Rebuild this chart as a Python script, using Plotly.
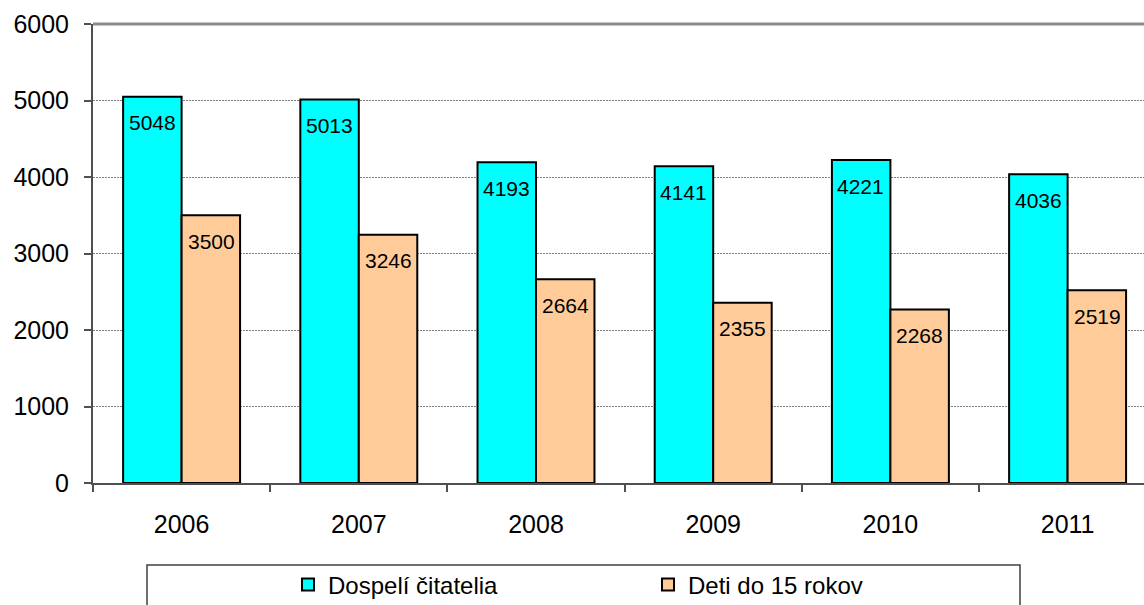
import plotly.graph_objects as go

# data
years = ["2006", "2007", "2008", "2009", "2010", "2011"]
adults = [5048, 5013, 4193, 4141, 4221, 4036]
children = [3500, 3246, 2664, 2355, 2268, 2519]
series_names = ["Dospelí čitatelia", "Deti do 15 rokov"]

font_family = "Liberation Sans, Arial, sans-serif"
colors = ["#00FFFF", "#FFCC99"]

fig = go.Figure()
for name, vals, col in zip(series_names, [adults, children], colors):
    fig.add_trace(go.Bar(
        x=years, y=vals, name=name,
        marker=dict(color=col, line=dict(color="black", width=2)),
    ))

# value labels inside bars, a bit below the top
half_bar = 29.5
for k, vals in enumerate([adults, children]):
    shift = -half_bar if k == 0 else half_bar
    for i, v in enumerate(vals):
        fig.add_annotation(
            x=i, y=v, text=str(v), showarrow=False,
            xshift=shift, yshift=-26, yanchor="middle",
            font=dict(size=21, color="black", family=font_family),
        )

L, T, B = 93, 24, 122
W, H = 1144, 605
pw = W - L
ph = H - T - B

fig.update_layout(
    width=W, height=H,
    margin=dict(l=L, r=0, t=T, b=B),
    plot_bgcolor="white", paper_bgcolor="white",
    font=dict(family=font_family, size=25, color="black"),
    barmode="group", bargap=0.34, bargroupgap=0,
    showlegend=True,
    legend=dict(
        orientation="h", xref="container", x=288 / W, xanchor="left",
        yref="container", y=1 - 585 / H, yanchor="middle",
        font=dict(size=24), entrywidth=315, entrywidthmode="pixels",
        bgcolor="rgba(0,0,0,0)", itemclick=False,
    ),
    shapes=[
        dict(type="rect", xref="paper", yref="paper",
             x0=(147 - L) / pw, x1=(1020 - L) / pw,
             y0=-0.4, y1=(483 - 565) / ph,
             line=dict(color="#404040", width=1.5)),
        dict(type="line", xref="paper", yref="paper",
             x0=0, x1=1, y0=1, y1=1,
             line=dict(color="#8c8c8c", width=3)),
    ],
)

fig.update_xaxes(
    type="category",
    range=[-0.5, -0.5 + pw / 177.2],
    showline=True, linecolor="#505050", linewidth=2,
    ticks="outside", tickson="boundaries", ticklen=7, tickcolor="#505050",
    tickwidth=2, ticklabelstandoff=18, showgrid=False,
)
fig.update_yaxes(
    range=[0, 6000], dtick=1000,
    showline=True, linecolor="#505050", linewidth=2,
    ticks="outside", ticklen=7, tickcolor="#505050", tickwidth=2,
    ticklabelstandoff=10,
    showgrid=True, gridcolor="#808080", griddash="2px,1px", gridwidth=1,
    zeroline=False,
)

fig.write_html("out.html", config={"displayModeBar": False},
               post_script="document.body.style.margin='0';")
